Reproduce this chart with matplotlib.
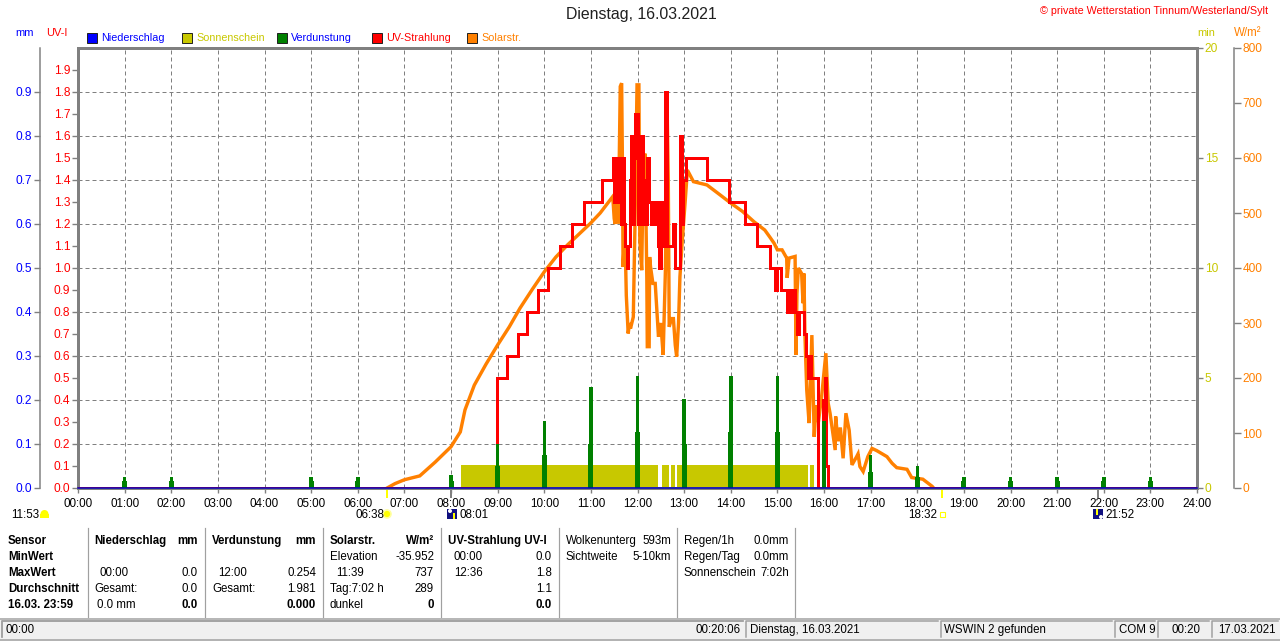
import matplotlib
matplotlib.use('Agg')
import matplotlib.pyplot as plt
from matplotlib.patches import Rectangle, Circle

plt.rcParams['font.family'] = ['Liberation Sans', 'DejaVu Sans']

W_PX, H_PX = 1280, 641
BLUE = '#0000ff'
YEL = '#c8c800'
GREEN = '#008000'
RED = '#ff0000'
ORANGE = '#ff8000'
GRAY = '#808080'

hour_labels = ['%02d:00' % h for h in range(25)]

# solar radiation, hours / W/m2
solar_t = [6.63, 6.8, 7.0, 7.33, 7.66, 8.0, 8.2, 8.3, 8.5, 8.75, 9.0, 9.25, 9.48, 9.75, 10.0, 10.25, 10.5, 10.75,
           11.0, 11.2, 11.47,
           11.50, 11.52, 11.55, 11.59, 11.63, 11.66, 11.68, 11.69, 11.73, 11.76, 11.80, 11.83, 11.85, 11.91, 11.95,
           11.99, 12.03, 12.05,
           12.09, 12.12, 12.16, 12.18, 12.20, 12.21, 12.25, 12.26, 12.28, 12.33, 12.38, 12.45, 12.50, 12.55, 12.60,
           12.64, 12.66,
           12.68, 12.73, 12.77, 12.81, 12.84, 12.88, 12.91, 12.96, 13.02, 13.07, 13.2, 13.49, 13.77, 14.0,
           14.25, 14.5, 14.73, 14.84, 14.93, 15.0, 15.1, 15.2, 15.21, 15.25, 15.38, 15.40, 15.42, 15.45, 15.52,
           15.55, 15.57, 15.59, 15.63, 15.68, 15.74, 15.79, 15.83, 15.88, 15.95, 16.04, 16.09, 16.13, 16.24,
           16.25, 16.3, 16.35, 16.41, 16.47, 16.54, 16.6, 16.7, 16.73, 16.77, 16.84, 16.94, 17.03, 17.13,
           17.35, 17.46, 17.56, 17.78, 17.88, 18.12, 18.32, 18.35]
solar_v = [0, 8, 15, 22, 47, 75, 102, 142, 187, 225, 260, 293, 327, 362, 393, 420, 442, 462,
           482, 500, 530,
           490, 480, 600, 481, 730, 736, 560, 402, 470, 350, 281, 300, 290, 311, 500,
           733, 733, 450,
           396, 560, 608, 500, 380, 257, 257, 420, 402, 372, 372, 275, 300, 242, 400,
           669, 560,
           293, 308, 308, 260, 239, 300, 384, 450, 518, 578, 557, 551, 533, 518,
           503, 484, 469, 456, 445, 433, 433, 418, 382, 418, 421, 242, 354, 400, 390,
           336, 390, 281, 178, 118, 278, 93, 150, 120, 167, 245, 154, 136, 69,
           130, 85, 110, 54, 136, 105, 42, 57, 62, 39, 30, 57, 72, 68,
           57, 45, 37, 34, 19, 16, 3, 0]

# UV index, steps
uv_t = [0, 8.98, 9.20, 9.44, 9.63, 9.87, 10.08, 10.34, 10.60, 10.85, 11.24, 11.47,
        11.50, 11.53, 11.55, 11.58, 11.60, 11.65, 11.68, 11.70, 11.74, 11.77, 11.80, 11.84, 11.87, 11.90,
        11.93, 11.95, 12.0, 12.03, 12.05, 12.08, 12.11, 12.14, 12.17, 12.20, 12.24, 12.28, 12.31, 12.35,
        12.40, 12.43, 12.46, 12.50, 12.53, 12.59, 12.64, 12.76, 12.80, 12.91, 12.95, 12.98, 13.03, 13.49,
        13.96, 14.31, 14.56, 14.84, 14.95, 15.0, 15.07, 15.20, 15.25, 15.28, 15.32, 15.37, 15.42, 15.46,
        15.58, 15.62, 15.66, 15.70, 15.73, 15.87, 15.98, 16.02, 16.05, 16.09, 24]
uv_v = [0, 0.5, 0.6, 0.7, 0.8, 0.9, 1.0, 1.1, 1.2, 1.3, 1.4, 1.5,
        1.3, 1.4, 1.5, 1.3, 1.5, 1.2, 1.5, 1.2, 1.1, 1.0, 1.1, 1.4, 1.6, 1.2,
        1.5, 1.7, 1.2, 1.4, 1.2, 1.6, 1.2, 1.4, 1.2, 1.5, 1.3, 1.2, 1.3, 1.2,
        1.3, 1.1, 1.0, 1.3, 1.1, 1.8, 1.1, 1.2, 1.0, 1.6, 1.2, 1.4, 1.5, 1.4,
        1.3, 1.2, 1.1, 1.0, 0.9, 1.0, 0.9, 0.8, 0.9, 0.8, 0.9, 0.8, 0.7, 0.8,
        0.7, 0.6, 0.5, 0.6, 0.5, 0.0, 0.4, 0.5, 0.1, 0.0, 0.0]

# evaporation spikes, mm
evap_h = [1, 2, 5, 6, 8, 9, 10, 11, 12, 13, 14, 15, 16, 17, 18, 19, 20, 21, 22, 23]
evap_top = [0.025, 0.025, 0.025, 0.025, 0.03, 0.1, 0.152, 0.23, 0.254, 0.203, 0.254, 0.254, 0.152,
            0.076, 0.05, 0.025, 0.025, 0.025, 0.025, 0.025]
evap_low = [0.015, 0.015, 0.015, 0.015, 0.015, 0.05, 0.076, 0.1, 0.127, 0.1, 0.127, 0.127, 0.08,
            0.036, 0.025, 0.015, 0.015, 0.015, 0.015, 0.015]

# sunshine blocks, hours, min
sun_start = [8.21, 12.53, 12.72, 12.85, 15.70]
sun_end = [12.44, 12.68, 12.80, 15.66, 15.79]
sun_val = [1.05, 1.05, 1.05, 1.05, 1.05]

rain_t = [0, 24]
rain_v = [0, 0]

legend_names = ['Niederschlag', 'Sonnenschein', 'Verdunstung', 'UV-Strahlung', 'Solarstr.']
legend_colors = [BLUE, YEL, GREEN, RED, ORANGE]
legend_text = [BLUE, YEL, BLUE, RED, ORANGE]
legend_x = [87, 182, 277, 372, 467]

sep_x = [88, 205, 323, 441, 559, 677, 795]

# table cells: x, y, text, align, bold
table = [
    (8, 541, 'Sensor', 'left', True), (8, 557, 'MinWert', 'left', True), (8, 573, 'MaxWert', 'left', True),
    (8, 589, 'Durchschnitt', 'left', True), (8, 605, '16.03. 23:59', 'left', True),
    (94, 541, 'Niederschlag', 'left', True), (198, 541, 'mm', 'right', True),
    (100, 573, '00:00', 'left', False), (198, 573, '0.0', 'right', False),
    (94, 589, 'Gesamt:', 'left', False), (198, 589, '0.0', 'right', False),
    (97, 605, '0.0 mm', 'left', False), (198, 605, '0.0', 'right', True),
    (212, 541, 'Verdunstung', 'left', True), (316, 541, 'mm', 'right', True),
    (218, 573, '12:00', 'left', False), (316, 573, '0.254', 'right', False),
    (212, 589, 'Gesamt:', 'left', False), (316, 589, '1.981', 'right', False),
    (316, 605, '0.000', 'right', True),
    (330, 541, 'Solarstr.', 'left', True), (434, 541, 'W/m²', 'right', True),
    (330, 557, 'Elevation', 'left', False), (434, 557, '-35.952', 'right', False),
    (336, 573, '11:39', 'left', False), (434, 573, '737', 'right', False),
    (330, 589, 'Tag:7:02 h', 'left', False), (434, 589, '289', 'right', False),
    (330, 605, 'dunkel', 'left', False), (434, 605, '0', 'right', True),
    (448, 541, 'UV-Strahlung UV-I', 'left', True),
    (454, 557, '00:00', 'left', False), (552, 557, '0.0', 'right', False),
    (454, 573, '12:36', 'left', False), (552, 573, '1.8', 'right', False),
    (552, 589, '1.1', 'right', False), (552, 605, '0.0', 'right', True),
    (566, 541, 'Wolkenunterg', 'left', False), (671, 541, '593m', 'right', False),
    (566, 557, 'Sichtweite', 'left', False), (671, 557, '5-10km', 'right', False),
    (684, 541, 'Regen/1h', 'left', False), (789, 541, '0.0mm', 'right', False),
    (684, 557, 'Regen/Tag', 'left', False), (789, 557, '0.0mm', 'right', False),
    (684, 573, 'Sonnenschein', 'left', False), (789, 573, '7:02h', 'right', False),
]

# status bar: left, right, text, text x, align
status = [
    (2, 743, '00:00', 6, 'left'),
    (2, 743, '00:20:06', 741, 'right'),
    (746, 938, 'Dienstag, 16.03.2021', 750, 'left'),
    (941, 1112, 'WSWIN 2 gefunden', 944, 'left'),
    (1115, 1155, 'COM 9', 1119, 'left'),
    (1158, 1209, '00:20', 1171, 'left'),
    (1212, 1278, '17.03.2021', 1218, 'left'),
]

fig = plt.figure(figsize=(W_PX / 100, H_PX / 100), dpi=100, facecolor='white')
pos = [78 / W_PX, 1 - 488 / H_PX, (1197 - 78) / W_PX, (488 - 48) / H_PX]
px = 72 / 100  # one pixel in points

# overlay in pixel coordinates for everything around the plot
ov = fig.add_axes([0, 0, 1, 1])
ov.set_xlim(0, W_PX)
ov.set_ylim(H_PX, 0)
ov.axis('off')


def label(x, y, s, color='black', size=8.6, ha='left', bold=False):
    ov.text(x, y, s, color=color, fontsize=size, ha=ha, va='center',
            fontweight='bold' if bold else 'normal')


# sunshine axis carries the grid and the time axis
ax_sun = fig.add_axes(pos)
ax_sun.set_xlim(0, 24)
ax_sun.set_ylim(0, 20)
ax_sun.set_xticks(range(25))
ax_sun.set_xticklabels(hour_labels, fontsize=8.4)
ax_sun.tick_params(axis='x', length=3.5, width=1, color=GRAY, pad=3.5)
ax_sun.yaxis.tick_right()
ax_sun.set_yticks(range(0, 21, 5))
ax_sun.tick_params(axis='y', length=4, width=1, color=GRAY, labelcolor=YEL, labelsize=8.6, pad=1.5)
ax_sun.set_axisbelow(True)
ax_sun.grid(axis='x', color=GRAY, lw=1 * px, ls=(0, (4, 3)))
for v in range(2, 20, 2):
    ax_sun.axhline(v, color=GRAY, lw=1 * px, ls=(0, (4, 3)), zorder=0.5)
for s in ax_sun.spines.values():
    s.set_color(GRAY)
    s.set_linewidth(3 * px)
for s0, s1, v in zip(sun_start, sun_end, sun_val):
    ax_sun.bar(s0, v, width=s1 - s0, align='edge', color=YEL, lw=0, zorder=1)

ax_solar = fig.add_axes(pos, sharex=ax_sun)
ax_solar.patch.set_visible(False)
ax_solar.set_ylim(0, 800)
ax_solar.yaxis.tick_right()
ax_solar.set_yticks(range(0, 801, 100))
ax_solar.spines['right'].set_position(('outward', 37 * px))
ax_solar.spines['right'].set_color(GRAY)
ax_solar.spines['right'].set_linewidth(1.5 * px)
for k in ['left', 'top', 'bottom']:
    ax_solar.spines[k].set_visible(False)
ax_solar.tick_params(axis='y', length=5, width=1, color=GRAY, labelcolor=ORANGE, labelsize=8.6, pad=1)
ax_solar.tick_params(axis='x', bottom=False, labelbottom=False)
ax_solar.plot(solar_t, solar_v, color=ORANGE, lw=3.4 * px, solid_joinstyle='miter')

ax_uv = fig.add_axes(pos, sharex=ax_sun)
ax_uv.patch.set_visible(False)
ax_uv.set_ylim(0, 2)
uv_ticks = [i / 10 for i in range(20)]
ax_uv.set_yticks(uv_ticks)
ax_uv.set_yticklabels(['%.1f' % v for v in uv_ticks])
for k in ['right', 'top', 'bottom', 'left']:
    ax_uv.spines[k].set_visible(False)
ax_uv.tick_params(axis='y', length=4, width=1, color=GRAY, labelcolor=RED, labelsize=8.6, pad=1.5)
ax_uv.tick_params(axis='x', bottom=False, labelbottom=False)
ax_uv.step(uv_t, uv_v, where='post', color=RED, lw=3 * px, solid_joinstyle='miter')

ax_mm = fig.add_axes(pos, sharex=ax_sun)
ax_mm.patch.set_visible(False)
ax_mm.set_ylim(0, 1)
mm_ticks = [i / 10 for i in range(10)]
ax_mm.set_yticks(mm_ticks)
ax_mm.set_yticklabels(['%.1f' % v for v in mm_ticks])
ax_mm.spines['left'].set_position(('outward', 38 * px))
ax_mm.spines['left'].set_color(GRAY)
ax_mm.spines['left'].set_linewidth(1.5 * px)
for k in ['right', 'top', 'bottom']:
    ax_mm.spines[k].set_visible(False)
ax_mm.tick_params(axis='y', length=4, width=1, color=GRAY, labelcolor=BLUE, labelsize=8.6, pad=1.5)
ax_mm.tick_params(axis='x', bottom=False, labelbottom=False)
ax_mm.bar(evap_h, evap_top, width=3.5 / 46.625, color=GREEN, lw=0)
ax_mm.bar(evap_h, evap_low, width=5 / 46.625, color=GREEN, lw=0)
ax_mm.plot(rain_t, rain_v, color='#0000c0', lw=1.5 * px, clip_on=False, zorder=5)

# header
label(641.5, 15, 'Dienstag, 16.03.2021', size=11.4, ha='center', color='#202020')
label(1268, 11, '© private Wetterstation Tinnum/Westerland/Sylt', color=RED, size=7.75, ha='right')
label(15, 33, 'mm', BLUE, 7.9)
label(46, 33, 'UV-I', RED, 7.9)
label(1197, 33, 'min', YEL, 7.9)
label(1234, 33, 'W/m²', ORANGE, 8.3)
for name, c, tc, x in zip(legend_names, legend_colors, legend_text, legend_x):
    ov.add_patch(Rectangle((x, 33), 10, 10, fc=c, ec='#202020', lw=0.7))
    label(x + 14, 38, name, tc, 7.75)

# sunrise, sunset and moon markers below the axis
y_mark = 515.5
label(11, y_mark, '11:53', size=8.4)
ov.add_patch(Rectangle((40, 514), 9, 4, fc='#ffff00', lw=0))
ov.add_patch(Circle((44.5, 514), 4, fc='#ffff00', lw=0))
label(355, y_mark, '06:38', size=8.4)
ov.add_patch(Circle((387, 514), 4, fc='#ffff00', ec='#ffffa0', lw=1.2))
label(459, y_mark, '08:01', size=8.4)
ov.add_patch(Rectangle((447, 509), 10, 10, fc='#101080', lw=0))
ov.add_patch(Rectangle((453, 513), 2, 6, fc='#ffff00', lw=0))
ov.add_patch(Circle((450, 511), 2, fc='white', lw=0))
label(908, y_mark, '18:32', size=8.4)
ov.add_patch(Rectangle((939.5, 511.5), 5, 5, fc='white', ec='#ffff00', lw=0.8))
label(1105, y_mark, '21:52', size=8.4)
ov.add_patch(Rectangle((1093, 509), 10, 10, fc='#101080', lw=0))
ov.add_patch(Rectangle((1096, 509), 2, 6, fc='#ffff00', lw=0))
ov.add_patch(Circle((1101, 517), 2, fc='white', lw=0))
for x in [387, 942]:
    ov.plot([x, x], [484, 497], color='#ffff00', lw=2 * px, zorder=6)
for x in [451, 1098]:
    ov.plot([x, x], [488, 497], color=GRAY, lw=2 * px)

# table below the chart
for x in sep_x:
    ov.plot([x, x], [528, 617], color='#a0a0a0', lw=1.2 * px)
for x, y, s, ha, bold in table:
    label(x, y, s, ha=ha, bold=bold, size=8.3)

# status bar
ov.plot([0, W_PX], [618.5, 618.5], color='#a0a0a0', lw=1.5 * px)
ov.add_patch(Rectangle((0, 620), W_PX, 21, fc='#f0f0f0', lw=0, zorder=0))
ov.plot([0, W_PX], [639.5, 639.5], color='#a0a0a0', lw=1.5 * px)
for left, right, s, tx, ha in status:
    ov.plot([left, left, right], [637, 621, 621], color='#a0a0a0', lw=1.5 * px)
    label(tx, 630, s, ha=ha, size=8.3)

fig.savefig('out.png', dpi=100)
